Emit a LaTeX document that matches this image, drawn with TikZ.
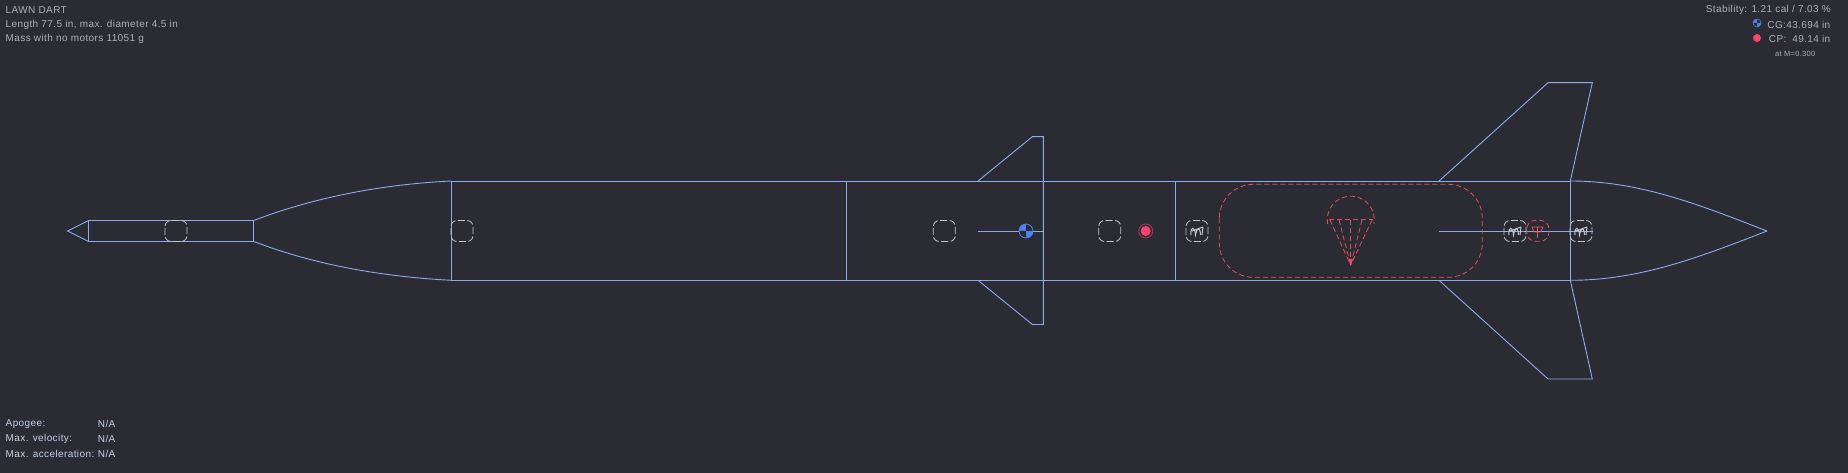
\documentclass[tikz,border=0pt]{standalone}
\usepackage{fontspec}
\setmainfont{Liberation Sans}[LetterSpace=4]
\begin{document}
\begin{tikzpicture}[x=1pt,y=-1pt,
	hull/.style={draw=hullblue,line width=0.9pt},
	chute/.style={draw=chutered,line width=0.8pt,dash pattern=on 5pt off 3pt},
	massbox/.style={draw=massgrey,line width=0.8pt,rounded corners=6pt,dash pattern=on 7pt off 2.5pt,dash phase=8.2pt},
	info/.style={text=infogrey,font=\fontsize{10}{12}\selectfont,inner sep=0pt,anchor=west},
	flight/.style={text=flightgrey,font=\fontsize{10}{12}\selectfont,inner sep=0pt,anchor=west}]
	\definecolor{bgdark}{HTML}{2B2C33}
	\definecolor{hullblue}{HTML}{8FA9EF}
	\definecolor{chutered}{HTML}{E0525C}
	\definecolor{massgrey}{HTML}{C8C8C8}
	\definecolor{infogrey}{HTML}{AEB1B8}
	\definecolor{flightgrey}{HTML}{C6D0E6}
	\definecolor{cgblue}{HTML}{4F82F0}
	\definecolor{cpred}{HTML}{F4476B}
	\fill[bgdark] (0,0) rectangle (1848,473);
	\useasboundingbox (0,0) rectangle (1848,473);
	% outline
	\draw[hull] (88.3,220.7) -- (67.5,231) -- (88.3,241.3);
	\draw[hull] (88.3,220.7) rectangle (253.3,241.3);
	\draw[hull] (253.3,220.7) .. controls (320,195) and (390,184) .. (451,181);
	\draw[hull] (253.3,241.3) .. controls (320,267) and (390,277) .. (451,280.3);
	\draw[hull] (451,181) rectangle (1570.3,280.3);
	\draw[hull] (846,181) -- (846,280.3);
	\draw[hull] (1175.5,181) -- (1175.5,280.3);
	\draw[hull] (1570.3,181) .. controls (1640,181) and (1700,205) .. (1767,231);
	\draw[hull] (1570.3,280.3) .. controls (1640,280.3) and (1700,257) .. (1767,231);
	% fins
	\draw[hull] (978,181) -- (1032.4,136.7) -- (1043.3,136.7) -- (1043.3,324.5) -- (1032.4,324.5) -- (978,280.3);
	\draw[hull] (978,231) -- (1043.3,231);
	\draw[hull] (1439,181) -- (1548,82.7) -- (1592.3,82.7) -- (1570.3,181);
	\draw[hull] (1439,280.3) -- (1548,379) -- (1592.3,379) -- (1570.3,280.3);
	\draw[hull] (1438.5,231) -- (1592.7,231);
	% recovery
	\draw[chute,rounded corners=34pt] (1219.3,184.3) rectangle (1482.3,277.3);
	\draw[chute] (1327.6,223.8) arc (170:370:23.5);
	\draw[chute] (1329,219.5) -- (1373,219.5);
	\draw[chute] (1330,220) -- (1350.7,265);
	\draw[chute] (1339,220) -- (1350.7,265);
	\draw[chute] (1350.7,220) -- (1350.7,265);
	\draw[chute] (1362,220) -- (1350.7,265);
	\draw[chute] (1372,220) -- (1350.7,265);
	\fill[chutered] (1348.5,259) -- (1353,259) -- (1350.7,266) -- cycle;
	% masses
	\foreach \mx in {176,462,944.3,1109.7,1197,1515,1581}
		\draw[massbox] (\mx-11,220.5) rectangle (\mx+11,241.5);
	\foreach \mx in {1197,1515,1581}
		\draw[massgrey,line width=1pt] (\mx-6,235) .. controls (\mx-7,226) and (\mx-2,226) .. (\mx-1.5,235) .. controls (\mx,227) and (\mx+3,226) .. (\mx+3.5,235) (\mx-5,231) -- (\mx+6,227) (\mx+6,227) -- (\mx+5,235);
	% streamer
	\draw[chute,rounded corners=9pt] (1526.7,220.3) rectangle (1549,241.3);
	\draw[chutered,line width=0.8pt] (1532,227) -- (1543,227) -- (1541,232) -- (1534,232) -- cycle (1537.5,227) -- (1537.5,238);
	% cg and cp
	\fill[cgblue] (1026,231) circle (7);
	\fill[bgdark] (1026,231) -- (1033,231) arc (0:90:7 and -7) -- cycle;
	\fill[bgdark] (1026,231) -- (1019,231) arc (180:270:7 and -7) -- cycle;
	\draw[cgblue,line width=0.8pt] (1026,231) circle (7);
	\fill[cpred] (1145.7,231) circle (5);
	\draw[cpred!70!black,line width=0.9pt] (1145.7,231) circle (7);
	% top left
	\node[info] (name) at (5.5,9.7) {LAWN DART};
	\node[info] (size) at (5.5,25) {Length 77.5 in, max. diameter 4.5 in};
	\node[info] (mass) at (5.5,39) {Mass with no motors 11051 g};
	% top right
	\node[info,anchor=east] (stab) at (1831,10) {Stability: 1.21 cal / 7.03 \%};
	\node[info,anchor=east] (cglabel) at (1830.5,25) {CG:43.694 in};
	\node[info] (cplabel) at (1768.7,39) {CP:};
	\node[info,anchor=east] (cpval) at (1830.5,39) {49.14 in};
	\node[info,font=\fontsize{7.5}{8}\selectfont] (mach) at (1775,54) {at M=0.300};
	\fill[cgblue] (1757,23) circle (4);
	\fill[bgdark] (1757,23) -- (1761,23) arc (0:90:4 and -4) -- cycle;
	\fill[bgdark] (1757,23) -- (1753,23) arc (180:270:4 and -4) -- cycle;
	\draw[cgblue,line width=0.6pt] (1757,23) circle (4);
	\fill[cpred] (1757,38) circle (4);
	% bottom left
	\node[flight] (apo) at (5.5,424) {Apogee:};
	\node[flight] (vel) at (5.5,439) {Max. velocity:};
	\node[flight] (acc) at (5.5,454) {Max. acceleration:};
	\node[flight] (apoval) at (97.7,424) {N/A};
	\node[flight] (velval) at (97.7,439) {N/A};
	\node[flight] (accval) at (97.7,454) {N/A};
\end{tikzpicture}
\end{document}
